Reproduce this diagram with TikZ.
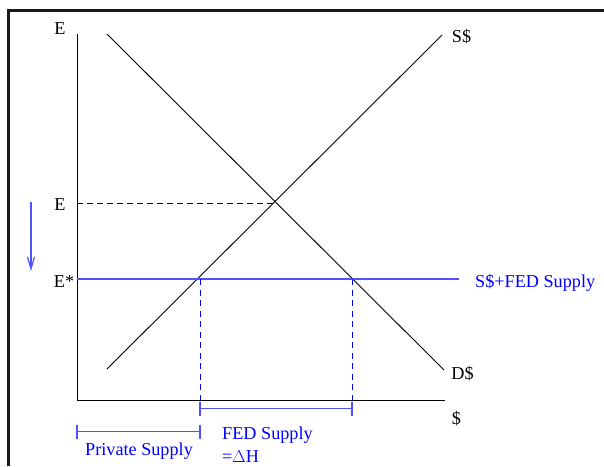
\documentclass[tikz,border=0pt]{standalone}
\usepackage{fontspec}
\setmainfont{Liberation Serif}
\usetikzlibrary{arrows.meta}
\definecolor{fedblue}{RGB}{0,0,255}
\definecolor{fedlight}{RGB}{80,80,255}
\begin{document}
\begin{tikzpicture}[x=1pt,y=-1pt,
  axis/.style={line width=1pt,black},
  curve/.style={line width=0.9pt,black},
  fedline/.style={line width=1.2pt,draw=fedlight,color=fedlight},
  fedmain/.style={line width=1.5pt,draw=fedlight},
  feddash/.style={line width=1pt,draw=fedblue,dash pattern=on 6pt off 4.5pt},
  lbl/.style={inner sep=0pt,anchor=base,font=\fontsize{18.2}{20}\selectfont},
  bluelbl/.style={lbl,text=fedblue}]
\useasboundingbox (0,0) rectangle (604,466);
\fill[white] (0,0) rectangle (604,466);
% page frame corner
\draw[line width=3pt,black!90] (8.5,466) -- (8.5,10.5) -- (604,10.5);
% coordinates
\coordinate (Ytop) at (77,34);
\coordinate (O) at (77,400);
\coordinate (Xend) at (445,400);
\coordinate (S1) at (107,369);
\coordinate (S2) at (442,35);
\coordinate (D1) at (107,34);
\coordinate (D2) at (444,370);
\coordinate (Eq) at (276,203);
\coordinate (Ey) at (77,203);
\coordinate (Fy) at (77,279);
\coordinate (Fend) at (459,279);
\coordinate (A) at (200,279);
\coordinate (B) at (352,279);
\coordinate (Ab) at (200,400);
\coordinate (Bb) at (352,400);
\coordinate (FL) at (200,408.5);
\coordinate (FR) at (352,408.5);
\coordinate (PL) at (77,431.5);
\coordinate (PR) at (200,431.5);
\coordinate (ArT) at (31,202);
\coordinate (ArB) at (31,271);
% axes
\draw[axis] (Ytop) -- (O) -- (Xend);
% supply & demand
\draw[curve] (S1) -- (S2);
\draw[curve] (D1) -- (D2);
% dashed equilibrium
\draw[curve,dash pattern=on 6pt off 4pt] (Ey) -- (Eq);
% Fed supply line
\draw[fedmain] (Fy) -- (Fend);
\draw[feddash] (A) -- (Ab);
\draw[feddash] (B) -- (Bb);
% brackets
\draw[fedline] (FL) -- (FR);
\draw[fedline] ([yshift=-7pt]FL) -- ([yshift=7pt]FL);
\draw[fedline] ([yshift=-7pt]FR) -- ([yshift=7pt]FR);
\draw[fedline] (PL) -- (PR);
\draw[fedline] ([yshift=-7pt]PL) -- ([yshift=7pt]PL);
\draw[fedline] ([yshift=-7pt]PR) -- ([yshift=7pt]PR);
% arrow
\draw[fedline,-{Straight Barb[length=12pt,width=7pt]}] (ArT) -- (ArB);
% labels
\node[lbl] (lE1) at (60,34) {E};
\node[lbl] (lE2) at (60,210) {E};
\node[lbl] (lEs) at (64,287) {E*};
\node[lbl] (lS) at (461.5,42) {S\$};
\node[lbl] (lD) at (462.5,379) {D\$};
\node[lbl] (lX) at (456.5,424) {\$};
\node[bluelbl,anchor=base west] (lSF) at (475,287) {S\$+FED Supply};
\node[bluelbl] (lP) at (139,455) {Private Supply};
\node[bluelbl,anchor=base west] (lF) at (222,439) {FED Supply};
\node[bluelbl,anchor=base west] (lH) at (222,462) {=$\Delta$H};
\end{tikzpicture}
\end{document}
